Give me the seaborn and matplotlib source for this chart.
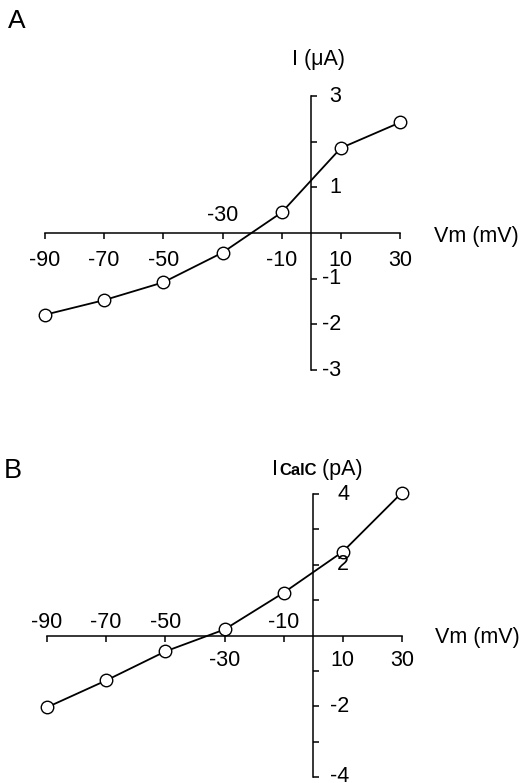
import matplotlib
matplotlib.use("Agg")
import matplotlib.pyplot as plt
import seaborn as sns
import pandas as pd

# ---- data ----
vm = [-90, -70, -50, -30, -10, 10, 30]
i_a = [-1.79, -1.47, -1.08, -0.43, 0.45, 1.86, 2.42]
i_b = [-2.03, -1.27, -0.45, 0.17, 1.21, 2.37, 4.04]

x_ticks = [-90, -70, -50, -30, -10, 10, 30]
x_labels = ["-90", "-70", "-50", "-30", "-10", "10", "30"]
above_a = ["-30"]
above_b = ["-90", "-70", "-50", "-10"]

y_ticks_a = [3, 2, 1, -1, -2, -3]
y_labels_a = ["3", "", "1", "-1", "-2", "-3"]
y_ticks_b = [4, 3, 2, 1, -1, -2, -3, -4]
y_labels_b = ["4", "", "2", "", "", "-2", "", "-4"]

sns.set_style("white")
plt.rcParams["font.family"] = ["Liberation Sans", "DejaVu Sans"]
plt.rcParams["axes.unicode_minus"] = False
plt.rcParams["text.color"] = "black"

W, H = 524, 783
fig = plt.figure(figsize=(W / 100, H / 100), dpi=100)

FS = 15.5
PT = 0.72  # points per pixel at dpi 100


def make_panel(rect, y, ylim, yticks, ylabels, above, below_px, above_px, ylab_px):
    ax = fig.add_axes(rect)
    df = pd.DataFrame({"Vm": vm, "I": y})
    sns.lineplot(data=df, x="Vm", y="I", ax=ax, color="black", lw=1.3,
                 marker="o", markersize=9, markerfacecolor="white",
                 markeredgecolor="black", markeredgewidth=1.0,
                 clip_on=False, zorder=3)
    ax.set_xlim(-90, 30)
    ax.set_ylim(*ylim)
    ax.set_xlabel("")
    ax.set_ylabel("")
    for s in ["left", "top"]:
        ax.spines[s].set_visible(False)
    ax.spines["bottom"].set_position(("data", 0))
    ax.spines["right"].set_position(("data", 0))
    ax.spines["bottom"].set_bounds(-90, 30)
    ax.spines["right"].set_bounds(ylim[0], ylim[1])
    for s in ["bottom", "right"]:
        ax.spines[s].set_linewidth(1.1)
        ax.spines[s].set_color("black")
    ax.set_xticks(x_ticks)
    ax.set_yticks(yticks)
    ax.tick_params(axis="x", direction="out", length=4.5, width=1.1,
                   bottom=True, labelbottom=False, color="black")
    ax.tick_params(axis="y", direction="out", length=4.5, width=1.1,
                   left=False, right=True, labelleft=False, labelright=False,
                   color="black")
    for xv, lab in zip(x_ticks, x_labels):
        if lab in above:
            ax.annotate(lab, xy=(xv, 0), xytext=(0, above_px * PT),
                        textcoords="offset points", ha="center", va="baseline",
                        fontsize=FS, color="black")
        else:
            ax.annotate(lab, xy=(xv, 0), xytext=(0, -below_px * PT),
                        textcoords="offset points", ha="center", va="baseline",
                        fontsize=FS, color="black")
    for yv, lab in zip(yticks, ylabels):
        if lab:
            ax.annotate(lab, xy=(0, yv), xytext=(ylab_px * PT, 0),
                        textcoords="offset points", ha="right", va="center",
                        fontsize=FS, color="black")
    return ax


axA = make_panel([45 / W, 1 - 370 / H, 355 / W, 274 / H], i_a, (-3, 3),
                 y_ticks_a, y_labels_a, above_a, 33, 12, 30)
axB = make_panel([47 / W, 1 - 777 / H, 355 / W, 283 / H], i_b, (-4, 4),
                 y_ticks_b, y_labels_b, above_b, 30, 7, 36)


def ftext(xpx, ypx, s, **kw):
    return fig.text(xpx / W, 1 - ypx / H, s, va="baseline", ha="left",
                    color="black", **kw)


ftext(8, 28, "A", fontsize=19)
ftext(4, 478, "B", fontsize=19.5)
ftext(292, 65, "I (μA)", fontsize=FS)
ftext(434, 242, "Vm (mV)", fontsize=FS)
ftext(435, 643, "Vm (mV)", fontsize=FS)

# composite label ICalC (pA)
renderer = fig.canvas.get_renderer()
t1 = ftext(272, 475, "I", fontsize=FS)
bb = t1.get_window_extent(renderer)
t2 = fig.text(bb.x1 / W + 1 / W, 1 - 475 / H, "CalC", va="baseline", ha="left",
              fontsize=12, fontweight="bold", color="black")
bb2 = t2.get_window_extent(renderer)
fig.text(bb2.x1 / W, 1 - 475 / H, " (pA)", va="baseline", ha="left",
         fontsize=FS, color="black")

fig.savefig("out.png", dpi=100)
